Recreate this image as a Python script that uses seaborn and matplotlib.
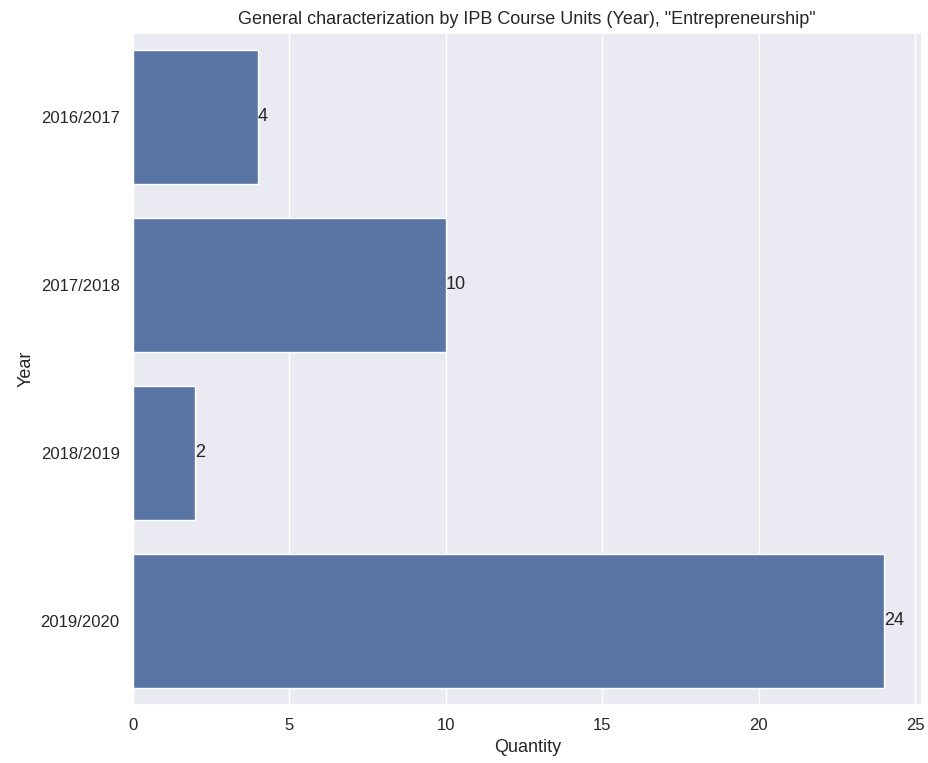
import pandas as pd
import matplotlib.pyplot as plt
import seaborn as sns

# Data
years = ["2016/2017", "2017/2018", "2018/2019", "2019/2020"]
quantities = [4, 10, 2, 24]

df = pd.DataFrame({"Year": years, "Quantity": quantities})

sns.set_theme(style="darkgrid")
plt.rcParams["font.family"] = ["Liberation Sans", "DejaVu Sans"]

fig, ax = plt.subplots(figsize=(9.29, 7.63), dpi=100)
sns.barplot(x="Quantity", y="Year", data=df, color="#4c72b0", orient="h", ax=ax)

# Value labels at the end of each bar
for container in ax.containers:
    ax.bar_label(container, fontsize=13, padding=0)

ax.set_title('General characterization by IPB Course Units (Year), "Entrepreneurship"', fontsize=13)
ax.set_xlabel("Quantity", fontsize=13)
ax.set_ylabel("Year", fontsize=13)
ax.tick_params(labelsize=12)

plt.subplots_adjust(left=0.143, right=0.992, top=0.957, bottom=0.076)
plt.savefig("out.png", dpi=100)
